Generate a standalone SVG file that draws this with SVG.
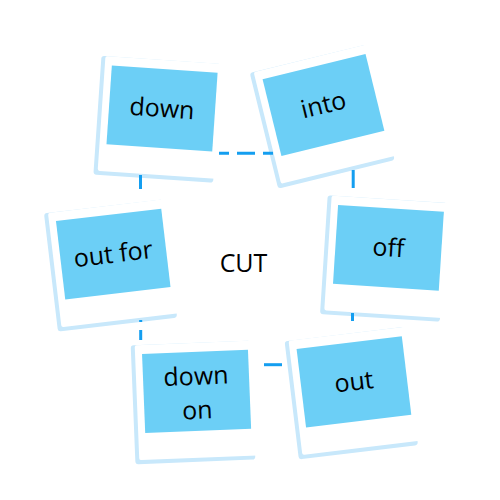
<svg xmlns="http://www.w3.org/2000/svg" width="500" height="500" viewBox="0 0 500 500">
<style>
.shadow{fill:#c8e8fb}
.card{fill:#ffffff}
.photo{fill:#6ccff6}
.lbl{font-family:"Open Sans","Noto Sans","Liberation Sans",sans-serif;font-size:25px;fill:#000000;text-anchor:middle}
.conn{stroke:#149ef0;stroke-width:3;fill:none;stroke-dasharray:18 8}
</style>
<rect width="500" height="500" fill="#ffffff"/>
<g id="node-down" transform="translate(162,109) rotate(3.9)">
<rect class="shadow" x="-64" y="-49" width="120" height="119" rx="3"/>
<rect class="card" x="-60" y="-49" width="120" height="115" rx="2"/>
<rect class="photo" x="-53" y="-40" width="106" height="79"/>
<text class="lbl" x="0" y="8">down</text>
</g>
<g id="node-into" transform="translate(323.6,105.4) rotate(-13.8)">
<rect class="shadow" x="-64" y="-49" width="120" height="119" rx="3"/>
<rect class="card" x="-60" y="-49" width="120" height="115" rx="2"/>
<rect class="photo" x="-53" y="-40" width="106" height="79"/>
<text class="lbl" x="0" y="8">into</text>
</g>
<g id="node-outfor" transform="translate(113.3,254.6) rotate(-6.75)">
<rect class="shadow" x="-64" y="-49" width="120" height="119" rx="3"/>
<rect class="card" x="-60" y="-49" width="120" height="115" rx="2"/>
<rect class="photo" x="-53" y="-40" width="106" height="79"/>
<text class="lbl" x="0" y="8">out for</text>
</g>
<g id="node-off" transform="translate(388.4,248.3) rotate(3.7)">
<rect class="shadow" x="-64" y="-49" width="120" height="119" rx="3"/>
<rect class="card" x="-60" y="-49" width="120" height="115" rx="2"/>
<rect class="photo" x="-53" y="-40" width="106" height="79"/>
<text class="lbl" x="0" y="8">off</text>
</g>
<g id="node-downon" transform="translate(196.6,391.8) rotate(-2.3)">
<rect class="shadow" x="-64" y="-49" width="120" height="119" rx="3"/>
<rect class="card" x="-60" y="-49" width="120" height="115" rx="2"/>
<rect class="photo" x="-53" y="-40" width="106" height="79"/>
<text class="lbl" x="0" y="-7">down</text>
<text class="lbl" x="0" y="27">on</text>
</g>
<g id="node-out" transform="translate(354,382.3) rotate(-6.9)">
<rect class="shadow" x="-64" y="-49" width="120" height="119" rx="3"/>
<rect class="card" x="-60" y="-49" width="120" height="115" rx="2"/>
<rect class="photo" x="-53" y="-40" width="106" height="79"/>
<text class="lbl" x="0" y="8">out</text>
</g>
<g id="node-cut">
<text class="lbl" x="243.5" y="271.5">CUT</text>
</g>
<g id="connectors">
<line class="conn" x1="219" y1="153.3" x2="273" y2="153.3" stroke-dashoffset="8"/>
<line class="conn" x1="140.5" y1="175" x2="140.5" y2="189"/>
<line class="conn" x1="353.2" y1="170" x2="353.2" y2="189"/>
<line class="conn" x1="140.7" y1="320" x2="140.7" y2="340" stroke-dashoffset="16"/>
<line class="conn" x1="352.5" y1="313" x2="352.5" y2="321"/>
<line class="conn" x1="264" y1="364.7" x2="283" y2="364.7"/>
</g>
</svg>
